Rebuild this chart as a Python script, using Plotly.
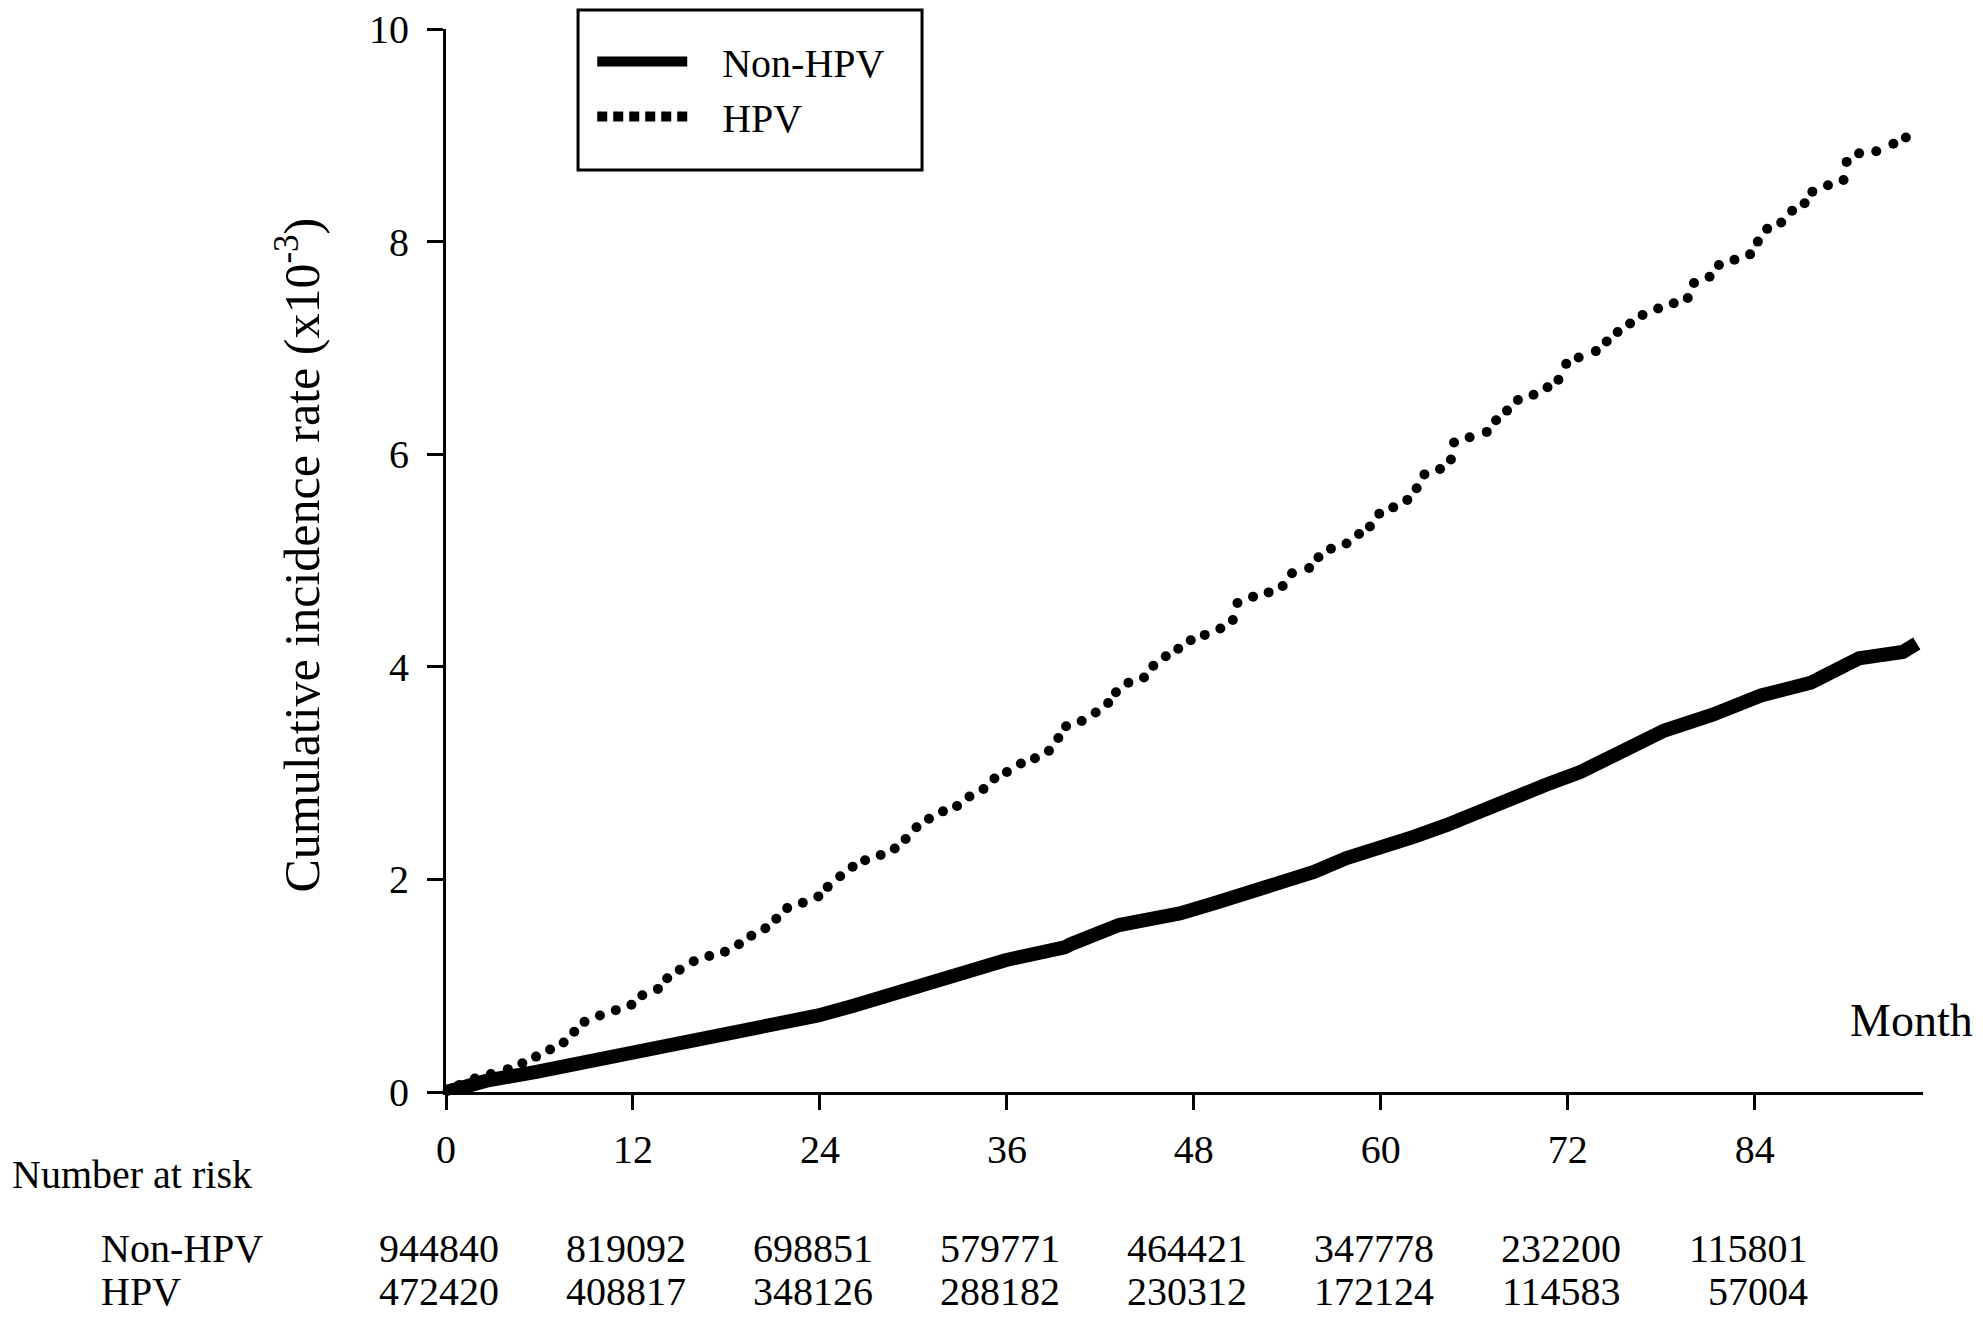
import plotly.graph_objects as go

# --- data ---
non_hpv_month = [0, 2.7, 5.8, 8.95, 11.9, 15.2, 18.3, 21.4, 23.9, 26.1, 29.2, 32.3, 35.9,
                 39.7, 40.1, 43.2, 46.3, 47.1, 49.3, 51.4, 53.5, 55.7, 57.8, 59.9, 62.1,
                 64.2, 66.4, 68.5, 70.6, 72.8, 74.9, 77.1, 78.2, 81.3, 84.4, 87.6, 88.9,
                 90.7, 93.5, 94.4]
non_hpv_rate = [0, 0.11, 0.19, 0.28, 0.36, 0.46, 0.555, 0.65, 0.72, 0.81, 0.945, 1.09, 1.24,
                1.36, 1.39, 1.57, 1.65, 1.68, 1.775, 1.87, 1.98, 2.07, 2.20, 2.29, 2.40,
                2.51, 2.65, 2.79, 2.89, 3.01, 3.15, 3.31, 3.40, 3.55, 3.73, 3.85, 3.95,
                4.08, 4.14, 4.22]

hpv_month = [0.1, 0.86, 1.85, 2.88, 3.97, 4.9, 5.78, 6.68, 7.55, 8.23, 8.89, 9.88, 10.9,
             11.9, 12.6, 13.6, 14.2, 15.0, 15.9, 16.9, 17.9, 18.8, 19.6, 20.5, 21.2, 21.9,
             22.9, 23.9, 24.5, 25.3, 26.1, 26.9, 27.9, 28.8, 29.5, 30.2, 31.0, 31.9, 32.8,
             33.6, 34.5, 35.2, 36.0, 36.9, 37.8, 38.7, 39.3, 39.8, 40.8, 41.7, 42.5, 43.0,
             43.8, 44.8, 45.4, 46.2, 47.0, 47.8, 48.7, 49.7, 50.5, 50.8, 51.8, 52.8, 53.7,
             54.3, 55.4, 56.0, 56.8, 57.8, 58.6, 59.3, 59.9, 60.8, 61.7, 62.3, 62.8, 63.8,
             64.5, 64.7, 65.7, 66.8, 67.4, 68.1, 68.8, 69.8, 70.7, 71.4, 71.9, 72.7, 73.8,
             74.5, 75.2, 76.0, 76.8, 77.8, 78.8, 79.7, 80.1, 81.1, 81.7, 82.7, 83.7, 84.2,
             84.8, 85.7, 86.4, 87.2, 87.7, 88.7, 89.7, 89.9, 90.7, 91.8, 92.9, 93.7]
hpv_rate = [0.01, 0.067, 0.126, 0.17, 0.215, 0.27, 0.333, 0.40, 0.465, 0.567, 0.66, 0.72, 0.77,
            0.82, 0.91, 0.97, 1.07, 1.15, 1.23, 1.28, 1.32, 1.39, 1.47, 1.54, 1.63, 1.73,
            1.78, 1.84, 1.93, 2.03, 2.12, 2.18, 2.23, 2.29, 2.38, 2.49, 2.57, 2.64, 2.69,
            2.78, 2.85, 2.95, 3.01, 3.09, 3.14, 3.21, 3.33, 3.44, 3.49, 3.57, 3.66, 3.76,
            3.85, 3.90, 4.01, 4.10, 4.17, 4.25, 4.30, 4.36, 4.44, 4.60, 4.66, 4.70, 4.76,
            4.88, 4.93, 5.03, 5.11, 5.16, 5.25, 5.32, 5.44, 5.50, 5.57, 5.68, 5.81, 5.86,
            5.95, 6.11, 6.16, 6.21, 6.32, 6.41, 6.51, 6.56, 6.63, 6.70, 6.85, 6.91, 6.97,
            7.06, 7.15, 7.23, 7.31, 7.37, 7.42, 7.47, 7.61, 7.67, 7.78, 7.83, 7.88, 8.00,
            8.12, 8.18, 8.29, 8.36, 8.47, 8.53, 8.58, 8.75, 8.83, 8.85, 8.92, 8.98]

risk_months = [0, 12, 24, 36, 48, 60, 72, 84]
risk_non_hpv = ["944840", "819092", "698851", "579771", "464421", "347778", "232200", "115801"]
risk_hpv = ["472420", "408817", "348126", "288182", "230312", "172124", "114583", "57004"]

FONT = "Liberation Serif, Times New Roman, serif"
GAP = "\u00a0\u00a0\u00a0"  # extra room between legend sample and label

fig = go.Figure()

fig.add_trace(go.Scatter(
    x=non_hpv_month, y=non_hpv_rate, mode="lines", name=GAP + "Non-HPV",
    line=dict(color="black", width=14), cliponaxis=False,
))
# dotted curve drawn as round dots; legend sample comes from the helper trace below
fig.add_trace(go.Scatter(
    x=hpv_month, y=hpv_rate, mode="markers", name="HPV", showlegend=False,
    marker=dict(color="black", size=10, symbol="circle"), cliponaxis=False,
))
fig.add_trace(go.Scatter(
    x=[None], y=[None], mode="lines", name=GAP + "HPV",
    line=dict(color="black", width=10, dash="10px,6px"),
))

annotations = []
annotations.append(dict(
    text="Cumulative incidence rate (x10<sup>-3</sup>)", textangle=-90,
    xref="paper", yref="paper", x=-0.1, y=0.505, xanchor="center", yanchor="middle",
    showarrow=False, font=dict(family=FONT, size=50, color="black"),
))
annotations.append(dict(
    text="Month", xref="paper", yref="paper", x=1.035, y=0.067,
    xanchor="right", yanchor="middle", showarrow=False,
    font=dict(family=FONT, size=46, color="black"),
))
annotations.append(dict(
    text="Number at risk", xref="paper", yref="paper", x=-0.2952, y=-0.078,
    xanchor="left", yanchor="middle", showarrow=False,
    font=dict(family=FONT, size=40, color="black"),
))
for label, yy in [("Non-HPV", -0.147), ("HPV", -0.188)]:
    annotations.append(dict(
        text=label, xref="paper", yref="paper", x=-0.2349, y=yy,
        xanchor="left", yanchor="middle", showarrow=False,
        font=dict(family=FONT, size=40, color="black"),
    ))
for row, yy in [(risk_non_hpv, -0.147), (risk_hpv, -0.188)]:
    for m, val in zip(risk_months, row):
        annotations.append(dict(
            text=val, xref="x", yref="paper", x=m, y=yy, xshift=55,
            xanchor="right", yanchor="middle", showarrow=False,
            font=dict(family=FONT, size=40, color="black"),
        ))

# page body has an 8px margin, so the figure is 16px smaller than the window
fig.update_layout(
    width=1967, height=1302,
    margin=dict(l=438, r=52, t=21, b=218, autoexpand=False),
    paper_bgcolor="white", plot_bgcolor="white",
    font=dict(family=FONT, size=40, color="black"),
    showlegend=True,
    legend=dict(
        x=0.099, y=1.0, xanchor="left", yanchor="top",
        bgcolor="rgba(0,0,0,0)", borderwidth=0,
        font=dict(family=FONT, size=40, color="black"),
        itemwidth=90, tracegroupgap=0,
    ),
    annotations=annotations,
    shapes=[dict(
        type="rect", xref="paper", yref="paper",
        x0=0.0894, x1=0.3223, y0=0.8673, y1=1.0179,
        line=dict(color="black", width=3),
    )],
)

fig.update_xaxes(
    range=[0, 94.8], tickvals=risk_months, ticks="outside", ticklen=15, tickwidth=3,
    tickcolor="black", showline=True, linewidth=3, linecolor="black",
    showgrid=False, zeroline=False, ticklabelstandoff=5, automargin=False,
    tickfont=dict(family=FONT, size=40, color="black"),
)
fig.update_yaxes(
    range=[0, 10], tickvals=[0, 2, 4, 6, 8, 10], ticks="outside", ticklen=16, tickwidth=3,
    tickcolor="black", showline=True, linewidth=3, linecolor="black",
    showgrid=False, zeroline=False, ticklabelstandoff=10, ticklabeloverflow="allow",
    automargin=False, tickfont=dict(family=FONT, size=40, color="black"),
)

fig.write_html("out.html")
